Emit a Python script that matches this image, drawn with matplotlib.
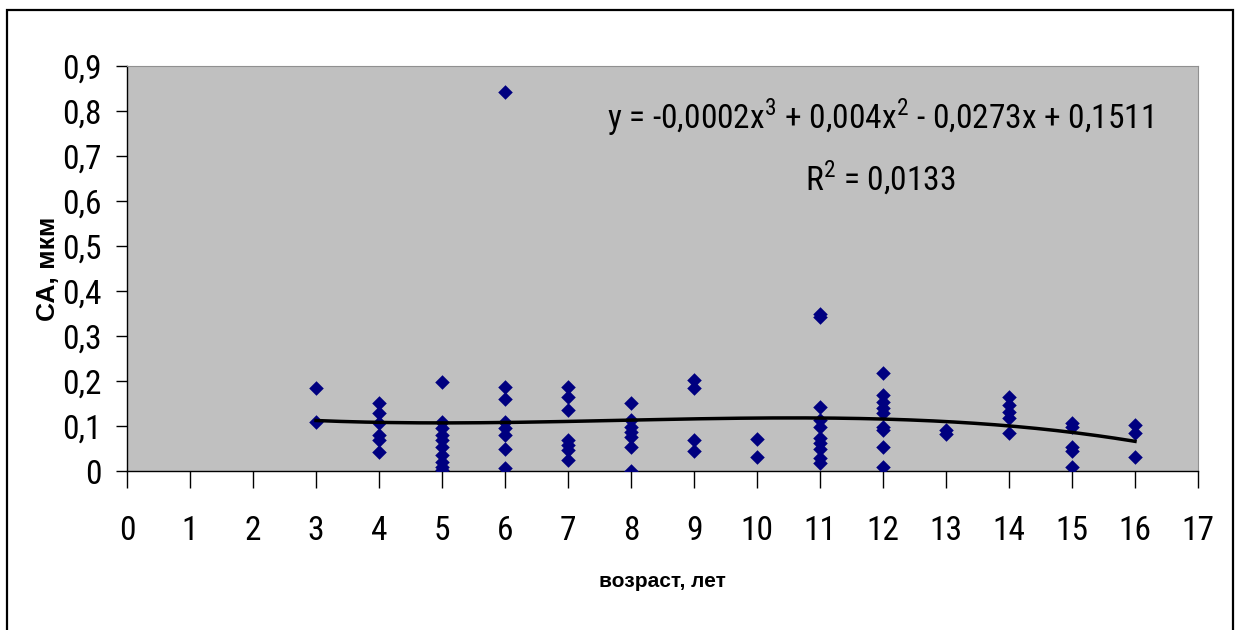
import matplotlib
matplotlib.use('Agg')
import matplotlib.pyplot as plt
from matplotlib.patches import Rectangle
from matplotlib.ticker import FuncFormatter
import numpy as np

plt.rcParams['font.family'] = ['Roboto Condensed', 'Liberation Sans', 'DejaVu Sans']
plt.rcParams['mathtext.fontset'] = 'custom'
plt.rcParams['mathtext.rm'] = 'Roboto Condensed'

age = ([3]*2 + [4]*6 + [5]*10 + [6]*8 + [7]*7 + [8]*7 + [9]*4 + [10]*2
       + [11]*10 + [12]*9 + [13]*2 + [14]*5 + [15]*5 + [16]*3)
val = [0.184, 0.110,
       0.152, 0.128, 0.106, 0.080, 0.069, 0.043,
       0.198, 0.110, 0.095, 0.080, 0.069, 0.054, 0.036, 0.021, 0.010, 0.002,
       0.842, 0.187, 0.159, 0.110, 0.095, 0.080, 0.050, 0.006,
       0.187, 0.164, 0.136, 0.069, 0.058, 0.047, 0.024,
       0.152, 0.113, 0.098, 0.087, 0.076, 0.054, 0.001,
       0.202, 0.184, 0.069, 0.045,
       0.071, 0.032,
       0.350, 0.342, 0.143, 0.113, 0.098, 0.073, 0.062, 0.050, 0.028, 0.017,
       0.217, 0.169, 0.154, 0.139, 0.128, 0.098, 0.091, 0.054, 0.010,
       0.091, 0.082,
       0.165, 0.147, 0.132, 0.117, 0.084,
       0.107, 0.098, 0.053, 0.045, 0.010,
       0.102, 0.084, 0.032]

eq_text = 'y = -0,0002x$^3$ + 0,004x$^2$ - 0,0273x + 0,1511'
r2_text = 'R$^2$ = 0,0133'

fig = plt.figure(figsize=(12.39, 6.30), dpi=100)
fig.patches.append(Rectangle((7/1239, -0.1), 1226/1239, 1.1 - 10/630, transform=fig.transFigure,
                             fill=False, edgecolor='black', linewidth=1.6))

ax = fig.add_axes([127/1239, 1 - 471/630, 1071/1239, 405/630])
ax.set_facecolor('#C0C0C0')

ax.scatter(age, val, marker='D', s=55, color='#000080', zorder=3, linewidths=0)

# cubic trend line
coef = np.polyfit(age, val, 3)
xs = np.linspace(3, 16, 200)
ax.plot(xs, np.polyval(coef, xs), color='black', linewidth=2.5, zorder=4)

ax.set_xlim(0, 17)
ax.set_ylim(0, 0.9)
ax.set_xticks(range(0, 18))
ax.set_yticks(np.arange(0, 0.91, 0.1))
ax.yaxis.set_major_formatter(FuncFormatter(lambda v, p: ('%.1f' % v).replace('.', ',') if v > 0.001 else '0'))

ax.tick_params(axis='y', direction='out', length=8, width=1, labelsize=24, pad=10)
ax.tick_params(axis='x', direction='out', length=12, width=1, labelsize=24, pad=20)

for s in ['top', 'right']:
    ax.spines[s].set_color('#909090')
    ax.spines[s].set_linewidth(0.8)
for s in ['left', 'bottom']:
    ax.spines[s].set_color('black')
    ax.spines[s].set_linewidth(1)

ax.set_xlabel('возраст, лет', fontsize=15, fontweight='bold', labelpad=18,
              family=['Liberation Sans', 'DejaVu Sans'])
ax.set_ylabel('СА, мкм', fontsize=19, fontweight='bold', labelpad=2,
              family=['Liberation Sans', 'DejaVu Sans'])

ax.text(11.95, 0.787, eq_text, fontsize=24, ha='center', va='center')
ax.text(11.95, 0.651, r2_text, fontsize=24, ha='center', va='center')

fig.savefig('out.png', dpi=100)
